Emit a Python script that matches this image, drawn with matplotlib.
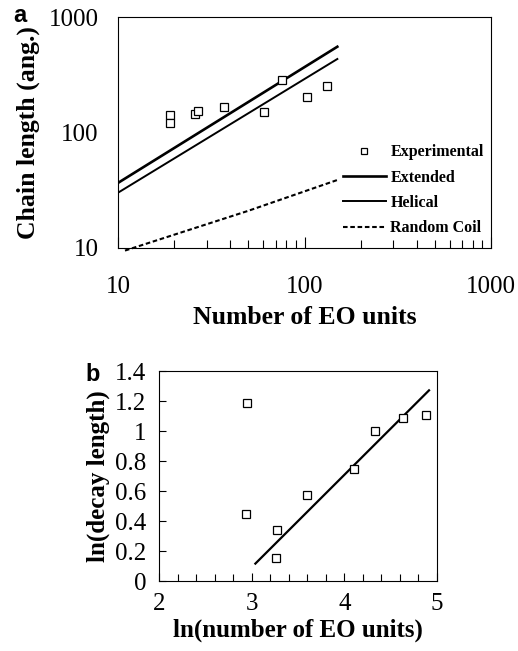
import numpy as np
import matplotlib
matplotlib.use("Agg")
import matplotlib.pyplot as plt
from matplotlib.ticker import LogLocator, NullFormatter, MultipleLocator

plt.rcParams['font.family'] = ['Liberation Serif', 'DejaVu Serif']

# ---- panel a: chain length vs number of EO units ----
exp_n = [19.0, 19.0, 25.9, 26.8, 36.9, 61.0, 76.0, 103.5, 132.4]
exp_len = [142, 120, 144, 153, 166, 151, 285, 202, 251]

ext_n = [10, 150]
ext_len = [36.6, 553]

hel_n = [10, 150]
hel_len = [30.1, 433]

coil_n = [10.9, 50, 150]
coil_len = [9.5, 21.0, 38.8]

# ---- panel b: ln(decay length) vs ln(number of EO units) ----
ln_n = [2.95, 2.935, 3.277, 3.259, 3.597, 4.104, 4.327, 4.633, 4.878]
ln_decay = [1.189, 0.447, 0.342, 0.156, 0.573, 0.747, 0.998, 1.089, 1.104]

fit_x = [3.04, 4.914]
fit_y = [0.116, 1.271]

W, H = 518, 651
fig = plt.figure(figsize=(W / 100, H / 100), dpi=100)

def box(l, t, r, b):
    return [l / W, 1 - b / H, (r - l) / W, (b - t) / H]

ax1 = fig.add_axes(box(118, 17, 491, 248))
ax1.set_xscale('log')
ax1.set_yscale('log')
ax1.set_xlim(10, 1000)
ax1.set_ylim(10, 1000)

ax1.plot(exp_n, exp_len, ls='none', marker='s', ms=5.5, mfc='white', mec='black',
         mew=0.9, label='Experimental', zorder=4)
ax1.plot(ext_n, ext_len, color='black', lw=1.9, label='Extended')
ax1.plot(hel_n, hel_len, color='black', lw=1.4, label='Helical')
ax1.plot(coil_n, coil_len, color='black', lw=1.5, ls=(0, (2.2, 1.3)),
         label='Random Coil', clip_on=False)

ax1.set_xticks([10, 100, 1000])
ax1.set_xticklabels(['10', '100', '1000'])
ax1.set_yticks([10, 100, 1000])
ax1.set_yticklabels(['10', '100', '1000'])
ax1.xaxis.set_minor_locator(LogLocator(base=10, subs=np.arange(2, 10), numticks=10))
ax1.xaxis.set_minor_formatter(NullFormatter())
ax1.yaxis.set_minor_formatter(NullFormatter())
ax1.tick_params(axis='x', which='major', direction='in', length=8, width=0.8,
                pad=20, labelsize=18)
ax1.tick_params(axis='x', which='minor', direction='in', length=6, width=0.8)
ax1.tick_params(axis='y', which='both', length=0, pad=14, labelsize=18)
for s in ax1.spines.values():
    s.set_linewidth(0.8)

ax1.set_xlabel('Number of EO units', fontsize=18.5, fontweight='bold', labelpad=6)
ax1.set_ylabel('Chain length (ang.)', fontsize=18.5, fontweight='bold', labelpad=6)

ax1.legend(loc='lower right', bbox_to_anchor=(1.0, 0.02), frameon=False,
           prop={'weight': 'bold', 'size': 11.5}, handlelength=2.7,
           handletextpad=0.3, labelspacing=0.58, borderaxespad=0.05,
           markerscale=0.8)

fig.text(19.5 / W, 1 - 16 / H, 'a', fontsize=17, fontweight='bold',
         family='Liberation Sans', ha='center', va='center')

# ---- panel b ----
ax2 = fig.add_axes(box(159, 371, 437, 581))
ax2.plot(ln_n, ln_decay, ls='none', marker='s', ms=5.5, mfc='white', mec='black',
         mew=0.9, zorder=4)
ax2.plot(fit_x, fit_y, color='black', lw=1.6)
ax2.set_xlim(2, 5)
ax2.set_ylim(0, 1.4)
ax2.set_xticks([2, 3, 4, 5])
ax2.set_yticks(np.arange(0, 1.41, 0.2))
ax2.set_yticklabels(['0', '0.2', '0.4', '0.6', '0.8', '1', '1.2', '1.4'])
ax2.xaxis.set_minor_locator(MultipleLocator(0.2))
ax2.tick_params(axis='x', which='major', direction='in', length=6, width=0.8,
                pad=9, labelsize=18)
ax2.tick_params(axis='x', which='minor', direction='in', length=5, width=0.8)
ax2.tick_params(axis='y', which='major', direction='in', length=5, width=0.8,
                pad=9, labelsize=18)
for s in ax2.spines.values():
    s.set_linewidth(0.8)
ax2.set_xlabel('ln(number of EO units)', fontsize=18, fontweight='bold', labelpad=2)
ax2.set_ylabel('ln(decay length)', fontsize=18, fontweight='bold', labelpad=4)

fig.text(92.5 / W, 1 - 375 / H, 'b', fontsize=17, fontweight='bold',
         family='Liberation Sans', ha='center', va='center')

fig.savefig('out.png', dpi=100)
